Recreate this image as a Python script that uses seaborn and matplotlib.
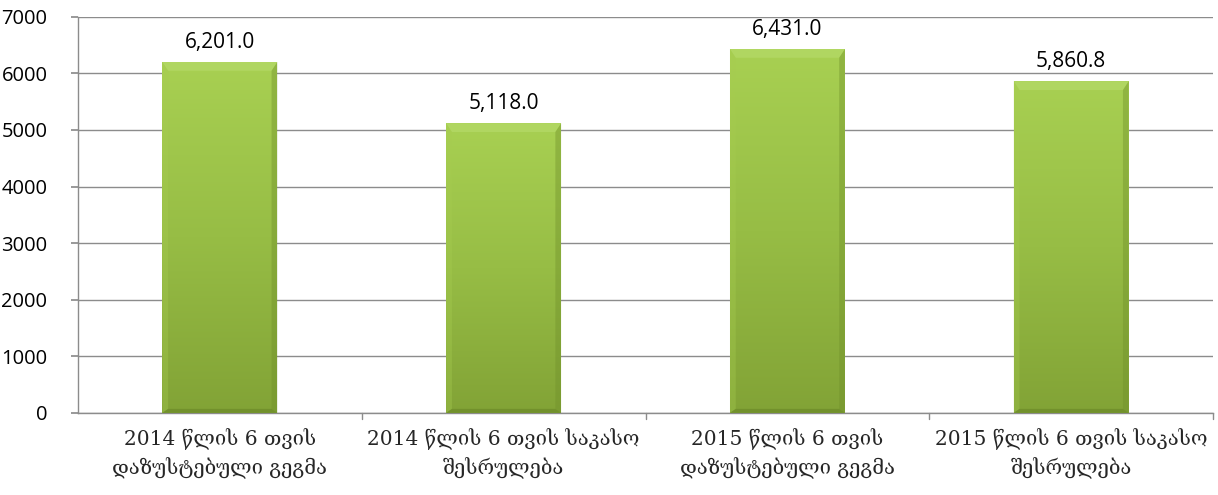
import numpy as np
import pandas as pd
import matplotlib
matplotlib.use("Agg")
import matplotlib.pyplot as plt
import seaborn as sns
from matplotlib.colors import LinearSegmentedColormap

categories = [
    "2014 წლის 6 თვის\nდაზუსტებული გეგმა",
    "2014 წლის 6 თვის საკასო\nშესრულება",
    "2015 წლის 6 თვის\nდაზუსტებული გეგმა",
    "2015 წლის 6 თვის საკასო\nშესრულება",
]
values = [6201.0, 5118.0, 6431.0, 5860.8]
yticks = [0, 1000, 2000, 3000, 4000, 5000, 6000, 7000]

sns.set_theme(style="white")
plt.rcParams["font.family"] = ["Open Sans", "DejaVu Sans"]

df = pd.DataFrame({"cat": categories, "val": values})

fig = plt.figure(figsize=(12.18, 4.95), dpi=100)
ax = fig.add_axes([0.064, 0.166, 0.932, 0.800])

sns.barplot(data=df, x="cat", y="val", ax=ax, color="#9bc142", width=0.405,
            saturation=1, edgecolor="none", zorder=3)

ax.set_ylim(0, 7000)
ax.set_xlim(-0.5, 3.5)
ax.set_yticks(yticks)
ax.set_yticklabels([str(t) for t in yticks], fontsize=14.5, color="#000000")
ax.yaxis.grid(True, color="#8c8c8c", linewidth=1.0, zorder=0)
ax.set_axisbelow(True)
ax.set_xlabel("")
ax.set_ylabel("")

for s in ["top", "right"]:
    ax.spines[s].set_visible(False)
for s in ["left", "bottom"]:
    ax.spines[s].set_color("#8c8c8c")
    ax.spines[s].set_linewidth(1.0)

# category tick marks sit between bars
ax.set_xticks([0, 1, 2, 3])
ax.set_xticklabels(categories, fontsize=14.5, family=["DejaVu Serif", "DejaVu Sans"],
                   linespacing=1.45)
ax.tick_params(axis="x", length=0, pad=11)
ax.tick_params(axis="y", length=5, color="#8c8c8c", direction="out", left=True, pad=17)
for xb in [0.5, 1.5, 2.5, 3.5]:
    ax.plot([xb, xb], [0, -0.015], transform=ax.get_xaxis_transform(),
            color="#8c8c8c", lw=1.0, clip_on=False)

# vertical gradient fill plus a soft bevel on each bar
cmap = LinearSegmentedColormap.from_list("grn", ["#a8d052", "#97bd45", "#82a336"])
grad = np.linspace(0, 1, 256).reshape(-1, 1)
for p in ax.patches:
    x0, y0 = p.get_x(), p.get_y()
    w, h = p.get_width(), p.get_height()
    im = ax.imshow(grad, cmap=cmap, aspect="auto", extent=[x0, x0 + w, y0, y0 + h],
                   origin="upper", zorder=3.5)
    im.set_clip_path(p)
    p.set_facecolor("none")
    bw = w * 0.05
    bh = 7000 * 0.01
    top = y0 + h - bh * 2.2
    ax.fill([x0, x0 + w, x0 + w - bw, x0 + bw], [y0 + h, y0 + h, top, top],
            color="#b9dd70", alpha=0.55, zorder=4, lw=0)
    ax.fill([x0, x0 + bw, x0 + bw, x0], [y0, y0 + bh, top, y0 + h],
            color="#a6cc50", alpha=0.35, zorder=4, lw=0)
    ax.fill([x0 + w, x0 + w - bw, x0 + w - bw, x0 + w], [y0, y0 + bh, top, y0 + h],
            color="#6f8f2a", alpha=0.4, zorder=4, lw=0)
    ax.fill([x0, x0 + w, x0 + w - bw, x0 + bw], [y0, y0, y0 + bh, y0 + bh],
            color="#5f7d22", alpha=0.45, zorder=4, lw=0)

for i, v in enumerate(values):
    ax.text(i, v + 160, f"{v:,.1f}", ha="center", va="bottom", fontsize=15, color="#000000")

ax.set_xlim(-0.5, 3.5)
ax.set_ylim(0, 7000)
fig.savefig("out.png", dpi=100)
